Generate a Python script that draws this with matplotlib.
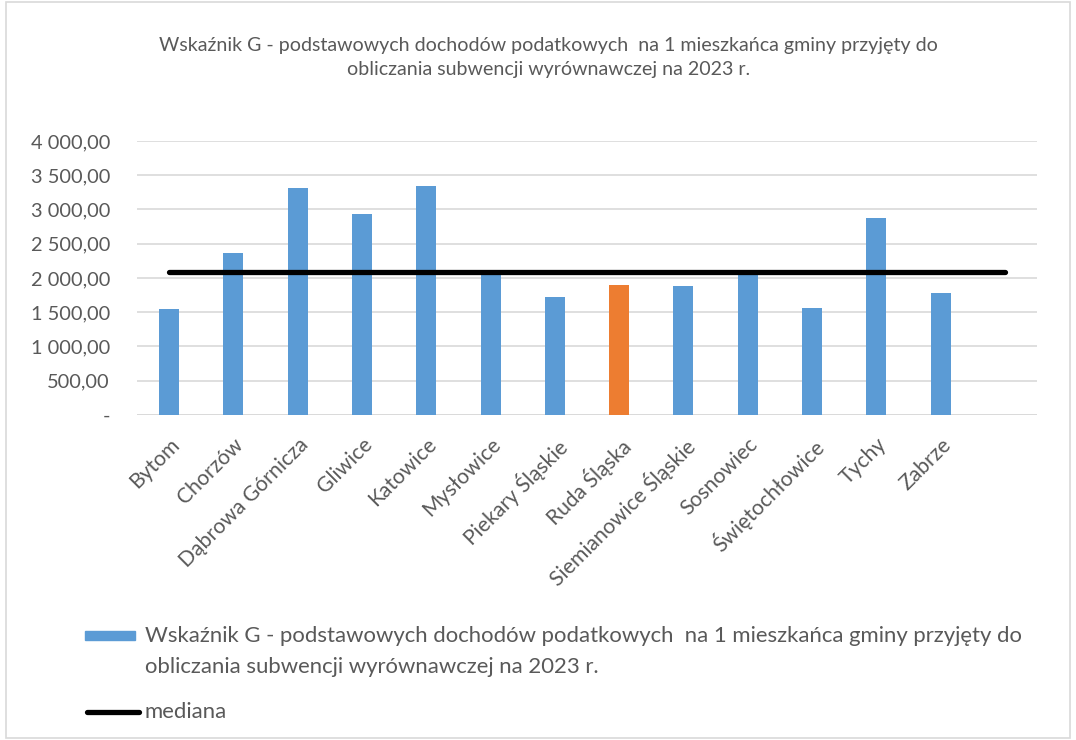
import matplotlib.pyplot as plt
import matplotlib.patches as mpatches
from matplotlib.lines import Line2D
from matplotlib.ticker import FuncFormatter

plt.rcParams['font.family'] = ['Lato', 'DejaVu Sans']

# data
gminy = ['Bytom', 'Chorzów', 'Dąbrowa Górnicza', 'Gliwice', 'Katowice',
         'Mysłowice', 'Piekary Śląskie', 'Ruda Śląska', 'Siemianowice Śląskie',
         'Sosnowiec', 'Świętochłowice', 'Tychy', 'Zabrze', '']
wskaznik_g = [1543, 2361, 3310, 2939, 3343, 2095, 1718, 1898, 1883,
              2090, 1562, 2871, 1777, None]
mediana = 2090.0
highlight = 'Ruda Śląska'

title_1 = 'Wskaźnik G - podstawowych dochodów podatkowych  na 1 mieszkańca gminy przyjęty do'
title_2 = 'obliczania subwencji wyrównawczej na 2023 r.'

BLUE = '#5B9BD5'
ORANGE = '#ED7D31'
GREY = '#595959'


def pl_format(v, pos):
    if abs(v) < 1e-9:
        return '-'
    s = '{:,.2f}'.format(v)
    return s.replace(',', ' ').replace('.', ',')


fig = plt.figure(figsize=(10.76, 7.40), dpi=100)
ax = fig.add_axes([0.1273, 0.4392, 0.8365, 0.3703])

x = list(range(len(gminy)))
bx = [i for i, v in zip(x, wskaznik_g) if v is not None]
bv = [v for v in wskaznik_g if v is not None]
colors = [ORANGE if gminy[i] == highlight else BLUE for i in bx]
ax.bar(bx, bv, width=0.31, color=colors, zorder=2)

ax.plot(x, [mediana] * len(x), color='black', lw=3.8,
        solid_capstyle='round', zorder=3)

ax.set_xlim(-0.5, len(gminy) - 0.5)
ax.set_ylim(0, 4000)
ax.set_yticks(range(0, 4001, 500))
ax.yaxis.set_major_formatter(FuncFormatter(pl_format))
ax.grid(axis='y', color='#d9d9d9', lw=1.2, zorder=0)
ax.set_axisbelow(True)

ax.set_xticks(x)
ax.set_xticklabels(gminy, rotation=45, ha='right', rotation_mode='anchor')
ax.tick_params(axis='both', length=0, colors=GREY)
ax.tick_params(axis='y', pad=19.5, labelsize=14.4)
ax.tick_params(axis='x', pad=14, labelsize=15.2)

for s in ax.spines.values():
    s.set_visible(False)
ax.axhline(0, color='#d9d9d9', lw=1.2, zorder=1)

# title, two centred lines
fig.text(0.51, 1 - 45 / 740, title_1, ha='center', va='center', fontsize=14.1, color=GREY)
fig.text(0.51, 1 - 69 / 740, title_2, ha='center', va='center', fontsize=14.1, color=GREY)

# legend drawn by hand so the patch sits at the first text line
fig.add_artist(mpatches.Rectangle((85 / 1076, 1 - 640 / 740), 50 / 1076, 9 / 740,
                                  transform=fig.transFigure, color=BLUE))
fig.add_artist(Line2D([87 / 1076, 139 / 1076], [1 - 712 / 740] * 2,
                      transform=fig.transFigure, color='black', lw=3.8,
                      solid_capstyle='round'))
leg_size = 15.9
fig.text(145 / 1076, 1 - 636 / 740, title_1, va='center', fontsize=leg_size, color=GREY)
fig.text(145 / 1076, 1 - 667 / 740, title_2, va='center', fontsize=leg_size, color=GREY)
fig.text(145 / 1076, 1 - 712 / 740, 'mediana', va='center', fontsize=leg_size, color=GREY)

fig.add_artist(mpatches.Rectangle((0.006, 0.003), 0.988, 0.994,
                                  transform=fig.transFigure, fill=False,
                                  edgecolor='#d9d9d9', lw=1.2))

fig.savefig('out.png', dpi=100)
